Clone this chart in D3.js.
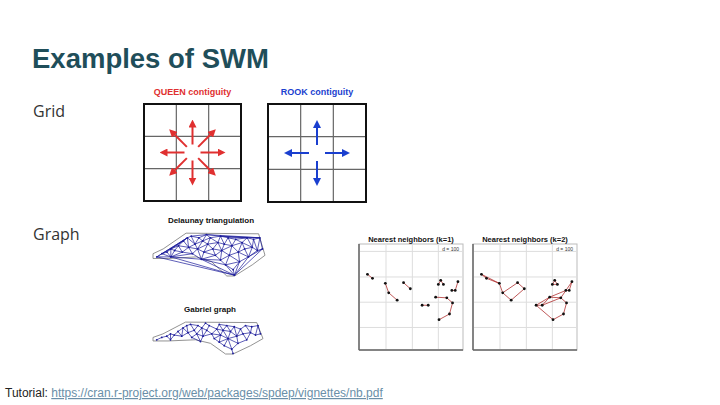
<!DOCTYPE html>
<html><head><meta charset="utf-8">
<script src="https://cdn.jsdelivr.net/npm/d3@7"></script>
<style>body{margin:0;background:#fff}svg{display:block}</style>
</head><body>
<svg width="720" height="405"></svg>
<script>
var queenDirs = [[0,-1],[1,-1],[1,0],[1,1],[0,1],[-1,1],[-1,0],[-1,-1]];
var rookDirs = [[0,-1],[1,0],[0,1],[-1,0]];
var ncOutline = [[-84.3,35.0],[-83.1,35.0],[-80.9,35.1],[-79.7,34.8],[-78.5,33.9],[-77.9,33.9],[-76.5,34.6],[-75.5,35.2],[-75.8,36.0],[-76.0,36.55],[-81.7,36.59],[-83.5,35.6],[-84.3,35.3]];
var ncPoints = [[-84.0,35.1],[-83.6,35.3],[-83.2,35.4],[-82.9,35.6],[-82.6,35.5],[-82.3,35.8],[-82.0,35.4],[-81.9,36.1],[-81.6,36.3],[-81.3,36.4],[-81.5,35.7],[-81.2,35.3],[-81.0,35.9],[-80.8,35.6],[-80.7,36.3],[-80.4,36.1],[-80.3,35.4],[-80.0,35.9],[-79.8,36.3],[-79.6,35.6],[-79.4,35.2],[-79.2,36.0],[-79.0,36.4],[-78.9,35.5],[-78.7,35.9],[-78.6,34.6],[-78.4,36.3],[-78.3,35.2],[-78.1,35.8],[-78.0,34.3],[-77.8,36.2],[-77.6,35.4],[-77.5,34.8],[-77.3,36.0],[-77.1,35.6],[-76.9,36.3],[-76.8,35.1],[-76.5,35.7],[-76.4,36.2],[-76.1,35.5],[-75.9,36.3],[-75.7,35.6],[-80.5,34.95],[-79.0,34.9],[-82.9,35.1],[-80.1,36.5],[-77.9,33.95]];
var nnPoints = [[35,130],[50,142],[88,157],[98,185],[123,207],[142,155],[162,173],[197,222],[215,222],[245,160],[252,148],[260,160],[285,178],[295,178],[303,152],[237,198],[270,200],[287,215],[278,248],[247,265]];
var nnEdgesK1 = [[0,1],[2,3],[3,4],[5,6],[7,8],[9,10],[10,11],[12,13],[13,14],[15,16],[16,17],[17,18],[18,19]];
var nnEdgesK2 = [[0,1],[0,2],[1,2],[2,3],[3,4],[4,6],[6,5],[5,3],[9,10],[10,11],[11,9],[12,13],[13,14],[12,15],[14,16],[7,8],[7,15],[8,15],[8,16],[15,16],[16,17],[17,18],[18,19],[19,7]];
var nnTitles = ["Nearest neighbors (k=1)", "Nearest neighbors (k=2)"];

var svg = d3.select("svg");
svg.append("text").attr("x", 32).attr("y", 68).text("Examples of SWM")
  .style("font-family", "Liberation Sans, Arial").style("font-weight", "bold")
  .style("font-size", "27.5px").style("fill", "#1f4e5a");
svg.append("text").attr("x", 33).attr("y", 117).text("Grid")
  .style("font-family", "Open Sans").style("font-size", "16px").style("fill", "#333");
svg.append("text").attr("x", 33).attr("y", 240).text("Graph")
  .style("font-family", "Open Sans").style("font-size", "16px").style("fill", "#333");
var foot = svg.append("text").attr("x", 5).attr("y", 397)
  .style("font-family", "Liberation Sans, Arial").style("font-size", "12px").style("fill", "#222");
foot.append("tspan").text("Tutorial: ");
foot.append("tspan").text("https://cran.r-project.org/web/packages/spdep/vignettes/nb.pdf")
  .style("fill", "#6a8fa8").style("text-decoration", "underline");

svg.append("defs").selectAll("marker").data([["red", "#e03030"], ["blue", "#1a3fcf"]]).enter()
  .append("marker").attr("id", function (d) { return "ah-" + d[0]; })
  .attr("viewBox", "0 0 10 10").attr("refX", 5).attr("refY", 5)
  .attr("markerWidth", 4).attr("markerHeight", 4).attr("orient", "auto")
  .append("path").attr("d", "M0,0L10,5L0,10z").attr("fill", function (d) { return d[1]; });

function gridPanel(x0, y0, size, title, color, dirs, name) {
  var s = d3.scaleLinear().domain([0, 3]).range([0, size]);
  var g = svg.append("g").attr("transform", "translate(" + x0 + "," + y0 + ")");
  g.append("text").attr("x", size / 2).attr("y", -9).attr("text-anchor", "middle").text(title)
    .style("font-family", "Liberation Sans, Arial").style("font-weight", "bold")
    .style("font-size", "9px").style("fill", color);
  [1, 2].forEach(function (i) {
    g.append("line").attr("x1", s(i)).attr("x2", s(i)).attr("y1", 0).attr("y2", size).style("stroke", "#666").style("stroke-width", 1.2);
    g.append("line").attr("y1", s(i)).attr("y2", s(i)).attr("x1", 0).attr("x2", size).style("stroke", "#666").style("stroke-width", 1.2);
  });
  g.append("rect").attr("width", size).attr("height", size).style("fill", "none").style("stroke", "#111").style("stroke-width", 2);
  var c = s(1.5);
  g.selectAll("line.arrow").data(dirs).enter().append("line").attr("class", "arrow")
    .attr("x1", function (d) { var l = Math.hypot(d[0], d[1]); return c + d[0] / l * 8; })
    .attr("y1", function (d) { var l = Math.hypot(d[0], d[1]); return c + d[1] / l * 8; })
    .attr("x2", function (d) { var l = Math.hypot(d[0], d[1]); return c + d[0] / l * 29; })
    .attr("y2", function (d) { var l = Math.hypot(d[0], d[1]); return c + d[1] / l * 29; })
    .style("stroke", color).style("stroke-width", 2)
    .attr("marker-end", "url(#ah-" + name + ")");
}
gridPanel(144, 104, 97, "QUEEN contiguity", "#e03030", queenDirs, "red");
gridPanel(268, 104, 98, "ROOK contiguity", "#1a3fcf", rookDirs, "blue");

function ncMap(x0, y0, w, h, title, gabriel) {
  var xs = d3.scaleLinear().domain([-84.3, -75.5]).range([x0, x0 + w]);
  var ys = d3.scaleLinear().domain([33.9, 36.6]).range([y0 + h, y0]);
  svg.append("text").attr("x", x0 + w / 2 + 2).attr("y", y0 - 10).attr("text-anchor", "middle").text(title)
    .style("font-family", "Liberation Sans, Arial").style("font-weight", "bold").style("font-size", "8px").style("fill", "#111");
  svg.append("path").attr("d", d3.line().x(function (d) { return xs(d[0]); }).y(function (d) { return ys(d[1]); })(ncOutline) + "Z")
    .style("fill", "none").style("stroke", "#777").style("stroke-width", 0.8);
  var pts = ncPoints.map(function (d) { return [xs(d[0]), ys(d[1])]; });
  var del = d3.Delaunay.from(pts);
  var edges = [];
  var t = del.triangles;
  for (var i = 0; i < t.length; i += 3) {
    [[t[i], t[i + 1]], [t[i + 1], t[i + 2]], [t[i + 2], t[i]]].forEach(function (e) {
      edges.push(e[0] < e[1] ? e : [e[1], e[0]]);
    });
  }
  var seen = {};
  edges = edges.filter(function (e) { var k = e[0] + "-" + e[1]; if (seen[k]) return false; seen[k] = 1; return true; });
  if (gabriel) {
    edges = edges.filter(function (e) {
      var a = pts[e[0]], b = pts[e[1]];
      var mx = (a[0] + b[0]) / 2, my = (a[1] + b[1]) / 2, r2 = ((a[0] - b[0]) ** 2 + (a[1] - b[1]) ** 2) / 4;
      return pts.every(function (p, j) { return j === e[0] || j === e[1] || (p[0] - mx) ** 2 + (p[1] - my) ** 2 > r2; });
    });
  }
  svg.append("g").selectAll("line").data(edges).enter().append("line")
    .attr("x1", function (e) { return pts[e[0]][0]; }).attr("y1", function (e) { return pts[e[0]][1]; })
    .attr("x2", function (e) { return pts[e[1]][0]; }).attr("y2", function (e) { return pts[e[1]][1]; })
    .style("stroke", "#1a1a9a").style("stroke-width", 0.7);
  svg.append("g").selectAll("circle").data(pts).enter().append("circle")
    .attr("cx", function (d) { return d[0]; }).attr("cy", function (d) { return d[1]; }).attr("r", 0.9).style("fill", "#1a1a9a");
}
ncMap(153, 233, 112, 43, "Delaunay triangulation", false);
ncMap(153, 322, 110, 32, "Gabriel graph", true);

function nnPanel(x0, title, edges) {
  var w = 104, y0 = 244, h = 106;
  var xs = d3.scaleLinear().domain([10, 318]).range([x0, x0 + w]);
  var ys = d3.scaleLinear().domain([40, 355]).range([y0, y0 + h]);
  var g = svg.append("g");
  g.append("rect").attr("x", x0).attr("y", y0).attr("width", w).attr("height", h).style("fill", "#fff").style("stroke", "#bbb");
  [90, 168, 245].forEach(function (v) {
    g.append("line").attr("x1", xs(v)).attr("x2", xs(v)).attr("y1", y0).attr("y2", y0 + h).style("stroke", "#ddd");
  });
  [62, 138, 213, 288].forEach(function (v) {
    g.append("line").attr("y1", ys(v)).attr("y2", ys(v)).attr("x1", x0).attr("x2", x0 + w).style("stroke", "#ddd");
  });
  g.append("line").attr("x1", x0).attr("x2", x0).attr("y1", y0).attr("y2", y0 + h).style("stroke", "#666").style("stroke-width", 1.5);
  g.append("line").attr("x1", x0).attr("x2", x0 + w).attr("y1", y0 + h).attr("y2", y0 + h).style("stroke", "#666").style("stroke-width", 1.5);
  g.append("text").attr("x", x0 + w / 2).attr("y", y0 - 2).attr("text-anchor", "middle").text(title)
    .style("font-family", "Liberation Sans, Arial").style("font-weight", "bold").style("font-size", "7.5px").style("fill", "#111");
  g.append("text").attr("x", x0 + w - 4).attr("y", y0 + 7).attr("text-anchor", "end").text("d = 100")
    .style("font-family", "Liberation Sans, Arial").style("font-size", "5px").style("fill", "#333");
  g.selectAll("line.e").data(edges).enter().append("line").attr("class", "e")
    .attr("x1", function (e) { return xs(nnPoints[e[0]][0]); }).attr("y1", function (e) { return ys(nnPoints[e[0]][1]); })
    .attr("x2", function (e) { return xs(nnPoints[e[1]][0]); }).attr("y2", function (e) { return ys(nnPoints[e[1]][1]); })
    .style("stroke", "#b03030").style("stroke-width", 0.8);
  g.selectAll("circle").data(nnPoints).enter().append("circle")
    .attr("cx", function (d) { return xs(d[0]); }).attr("cy", function (d) { return ys(d[1]); })
    .attr("r", 1.4).style("fill", "#111");
}
nnPanel(359, nnTitles[0], nnEdgesK1);
nnPanel(473, nnTitles[1], nnEdgesK2);
</script>
</body></html>
